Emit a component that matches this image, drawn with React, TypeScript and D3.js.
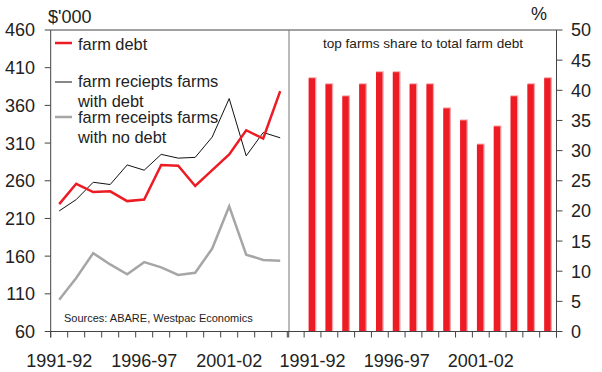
import React from "react";
import * as d3 from "d3";

const leftYears = ["1991-92","1992-93","1993-94","1994-95","1995-96","1996-97","1997-98","1998-99","1999-00","2000-01","2001-02","2002-03","2003-04","2004-05"];
const farmDebt = [229, 256, 245, 246, 233, 235, 281, 280, 253, 274, 295, 327, 316, 379];
const receiptsWithDebt = [220, 235, 258, 255, 281, 274, 295, 290, 291, 318, 369, 293, 324, 317];
const receiptsNoDebt = [102, 131, 164, 149, 136, 152, 145, 135, 138, 170, 226, 162, 155, 154];

const rightYears = ["1990-91","1991-92","1992-93","1993-94","1994-95","1995-96","1996-97","1997-98","1998-99","1999-00","2000-01","2001-02","2002-03","2003-04","2004-05","2005-06"];
const topShare: (number | null)[] = [null, 42, 41, 39, 41, 43, 43, 41, 41, 37, 35, 31, 34, 39, 41, 42];

const leftTicks = [60, 110, 160, 210, 260, 310, 360, 410, 460];
const rightTicks = [0, 5, 10, 15, 20, 25, 30, 35, 40, 45, 50];
const xLabels = ["1991-92", "1996-97", "2001-02"];

const RED = "#ed1c24";
const GREY = "#a6a6a6";
const TEXT = "#222";
const AXIS = "#444";
const FONT = "'Liberation Sans', Arial, sans-serif";

export default function App() {
  const top = 30, bottom = 331.5;
  const lx0 = 50.7, lx1 = 288.7;
  const rx0 = 287.3, rx1 = 556.5;

  const yL = d3.scaleLinear().domain([60, 460]).range([bottom, top]);
  const yR = d3.scaleLinear().domain([0, 50]).range([bottom, top]);
  const xL = d3.scaleBand<string>().domain(leftYears).range([lx0, lx1]).padding(0);
  const xR = d3.scaleBand<string>().domain(rightYears).range([rx0, rx1]).padding(0);

  const line = d3.line<number>()
    .x((_, i) => (xL(leftYears[i]) as number) + xL.bandwidth() / 2)
    .y((d) => yL(d));

  const barW = 7.7;
  const tickLen = 6;

  const leftTickXs = d3.range(leftYears.length + 1).map((i) => lx0 + i * xL.bandwidth());
  const rightTickXs = d3.range(rightYears.length + 1).map((i) => rx0 + i * xR.bandwidth());

  return (
    <svg width={602} height={372} style={{ position: "absolute", left: 0, top: 0, background: "#fff" }} fontFamily={FONT}>
      {/* bars */}
      {topShare.map((v, i) => {
        if (v == null) return null;
        const cx = (xR(rightYears[i]) as number) + xR.bandwidth() / 2;
        return (
          <g key={i}>
            <rect x={cx - barW / 2} y={yR(v) - 1} width={barW} height={bottom - yR(v) + 1} fill="#f5a3a6" />
            <rect x={cx - barW / 2} y={yR(v)} width={barW - 1.3} height={bottom - yR(v)} fill={RED} />
          </g>
        );
      })}

      {/* lines */}
      <path d={line(receiptsNoDebt) || ""} fill="none" stroke={GREY} strokeWidth={2.5} strokeLinejoin="miter" />
      <path d={line(receiptsWithDebt) || ""} fill="none" stroke="#111" strokeWidth={1} />
      <path d={line(farmDebt) || ""} fill="none" stroke={RED} strokeWidth={2.5} />

      {/* frame */}
      <line x1={lx0} x2={rx1} y1={top} y2={top} stroke={AXIS} strokeWidth={1} />
      <line x1={lx0} x2={lx0} y1={top} y2={bottom + tickLen} stroke={AXIS} strokeWidth={1} />
      <line x1={rx1} x2={rx1} y1={top} y2={bottom + tickLen} stroke={AXIS} strokeWidth={1} />
      <line x1={289} x2={289} y1={top} y2={bottom} stroke="#777" strokeWidth={1} />
      <line x1={lx0} x2={rx1} y1={bottom} y2={bottom} stroke={AXIS} strokeWidth={1} />

      {/* x ticks */}
      {leftTickXs.map((x, i) => (
        <line key={"lt" + i} x1={x} x2={x} y1={bottom} y2={bottom + tickLen} stroke={AXIS} strokeWidth={1} />
      ))}
      {rightTickXs.map((x, i) => (
        <line key={"rt" + i} x1={x} x2={x} y1={bottom} y2={bottom + tickLen} stroke={AXIS} strokeWidth={1} />
      ))}

      {/* left y ticks */}
      {leftTicks.map((t) => (
        <g key={"ly" + t}>
          <line x1={lx0 - tickLen} x2={lx0} y1={yL(t)} y2={yL(t)} stroke={AXIS} strokeWidth={1} />
          <text x={35} y={yL(t)} dy="0.36em" textAnchor="end" fontSize={18} fill={TEXT}>{t}</text>
        </g>
      ))}
      {/* right y ticks */}
      {rightTicks.map((t) => (
        <g key={"ry" + t}>
          <line x1={rx1} x2={rx1 + tickLen} y1={yR(t)} y2={yR(t)} stroke={AXIS} strokeWidth={1} />
          <text x={571} y={yR(t)} dy="0.36em" textAnchor="start" fontSize={18} fill={TEXT}>{t}</text>
        </g>
      ))}

      {/* x labels */}
      {xLabels.map((l) => (
        <text key={"xl" + l} x={(xL(l) as number) + xL.bandwidth() / 2} y={367} textAnchor="middle" fontSize={18} fill={TEXT}>{l}</text>
      ))}
      {xLabels.map((l) => (
        <text key={"xr" + l} x={(xR(l) as number) + xR.bandwidth() / 2} y={367} textAnchor="middle" fontSize={18} fill={TEXT}>{l}</text>
      ))}

      {/* units */}
      <text x={48} y={23} fontSize={18} fill={TEXT}>$'000</text>
      <text x={531} y={20} fontSize={18} fill={TEXT}>%</text>

      {/* legend */}
      <line x1={55} x2={72} y1={43} y2={43} stroke={RED} strokeWidth={2.5} />
      <text x={78} y={50} fontSize={16.4} fill={TEXT}>farm debt</text>
      <line x1={55} x2={72} y1={82} y2={82} stroke="#111" strokeWidth={1} />
      <text x={78} y={87} fontSize={16.4} fill={TEXT}>farm reciepts farms</text>
      <text x={78} y={106.5} fontSize={16.4} fill={TEXT}>with debt</text>
      <line x1={55} x2={72} y1={117} y2={117} stroke={GREY} strokeWidth={2.5} />
      <text x={78} y={123} fontSize={16.4} fill={TEXT}>farm receipts farms</text>
      <text x={78} y={142.5} fontSize={16.4} fill={TEXT}>with no debt</text>

      {/* source & title */}
      <text x={64} y={322} fontSize={11} fill={TEXT}>Sources: ABARE, Westpac Economics</text>
      <text x={423} y={48} textAnchor="middle" fontSize={13.6} fill={TEXT}>top farms share to total farm debt</text>
    </svg>
  );
}
